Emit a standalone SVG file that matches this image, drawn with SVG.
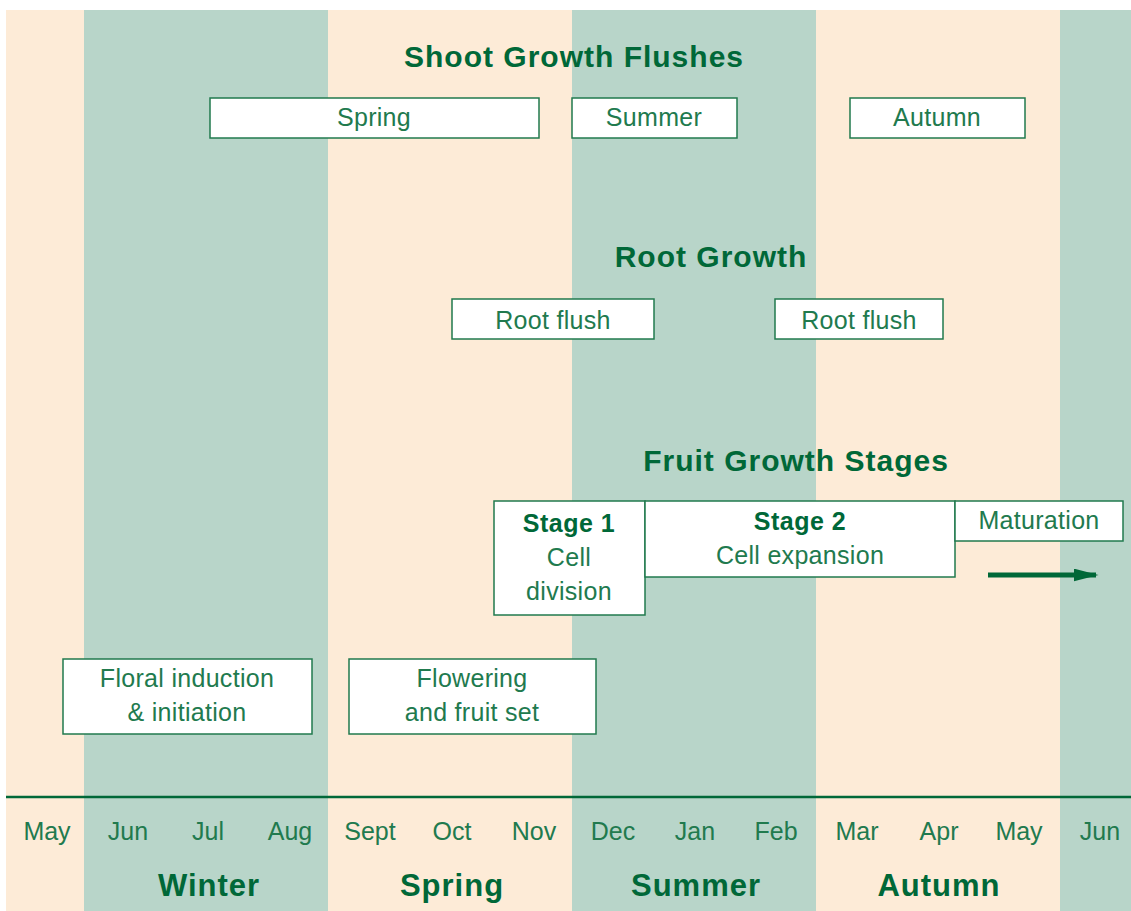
<svg xmlns="http://www.w3.org/2000/svg" width="1131" height="911" viewBox="0 0 1131 911">
<defs>
<style>
.p{fill:#fdebd7}.g{fill:#b8d5c9}
.box{fill:#fff;stroke:#217a4e;stroke-width:1.5}
text{font-family:"Liberation Sans",Arial,sans-serif;text-anchor:middle}
.t{font-size:25px;fill:#217a4e;letter-spacing:0.3px}
.b{font-size:25px;fill:#006838;font-weight:bold;letter-spacing:0.5px}
.h{font-size:30px;fill:#006838;font-weight:bold;letter-spacing:1px}
.m{font-size:25px;fill:#217a4e}
.s{font-size:31px;fill:#006838;font-weight:bold;letter-spacing:1px}
</style>
<marker id="ah" viewBox="0 0 10 10" refX="9" refY="5" markerWidth="5" markerHeight="2.6" markerUnits="strokeWidth" orient="auto" preserveAspectRatio="none"><path d="M0,0L10,5L0,10Z" fill="#006838"/></marker>
</defs>
<rect width="1131" height="911" fill="#fff"/>
<g id="background">
<rect class="p" x="6" y="10" width="78" height="901"/>
<rect class="g" x="84" y="10" width="244" height="901"/>
<rect class="p" x="328" y="10" width="244" height="901"/>
<rect class="g" x="572" y="10" width="244" height="901"/>
<rect class="p" x="816" y="10" width="244" height="901"/>
<rect class="g" x="1060" y="10" width="71" height="901"/>
<line x1="6" y1="797" x2="1131" y2="797" stroke="#006838" stroke-width="2.5"/>
</g>
<g id="titles">
<text class="h" x="574" y="67">Shoot Growth Flushes</text>
<text class="h" x="711" y="267">Root Growth</text>
<text class="h" x="796" y="471">Fruit Growth Stages</text>
</g>
<g id="shoot-spring"><rect class="box" x="210" y="98" width="329" height="40"/><text class="t" x="374" y="126">Spring</text></g>
<g id="shoot-summer"><rect class="box" x="572" y="98" width="165" height="40"/><text class="t" x="654" y="126">Summer</text></g>
<g id="shoot-autumn"><rect class="box" x="850" y="98" width="175" height="40"/><text class="t" x="937" y="126">Autumn</text></g>
<g id="root-1"><rect class="box" x="452" y="299" width="202" height="40"/><text class="t" x="553" y="329">Root flush</text></g>
<g id="root-2"><rect class="box" x="775" y="299" width="168" height="40"/><text class="t" x="859" y="329">Root flush</text></g>
<g id="stage1"><rect class="box" x="494" y="501" width="151" height="114"/><text class="b" x="569" y="532">Stage 1</text><text class="t" x="569" y="566">Cell</text><text class="t" x="569" y="600">division</text></g>
<g id="stage2"><rect class="box" x="645" y="501" width="310" height="76"/><text class="b" x="800" y="530">Stage 2</text><text class="t" x="800" y="564">Cell expansion</text></g>
<g id="maturation"><rect class="box" x="955" y="501" width="168" height="40"/><text class="t" x="1039" y="529">Maturation</text></g>
<g id="floral"><rect class="box" x="63" y="659" width="249" height="75"/><text class="t" x="187" y="687">Floral induction</text><text class="t" x="187" y="721">&amp; initiation</text></g>
<g id="flowering"><rect class="box" x="349" y="659" width="247" height="75"/><text class="t" x="472" y="687">Flowering</text><text class="t" x="472" y="721">and fruit set</text></g>
<g id="connectors">
<line x1="988" y1="575" x2="1096" y2="575" stroke="#006838" stroke-width="5" marker-end="url(#ah)"/>
</g>
<g id="months">
<text class="m" x="47" y="840">May</text><text class="m" x="128" y="840">Jun</text><text class="m" x="208" y="840">Jul</text><text class="m" x="290" y="840">Aug</text>
<text class="m" x="370" y="840">Sept</text><text class="m" x="452" y="840">Oct</text><text class="m" x="534" y="840">Nov</text><text class="m" x="613" y="840">Dec</text>
<text class="m" x="695" y="840">Jan</text><text class="m" x="776" y="840">Feb</text><text class="m" x="857" y="840">Mar</text><text class="m" x="939" y="840">Apr</text>
<text class="m" x="1019" y="840">May</text><text class="m" x="1100" y="840">Jun</text>
</g>
<g id="seasons">
<text class="s" x="209" y="896">Winter</text><text class="s" x="452" y="896">Spring</text><text class="s" x="696" y="896">Summer</text><text class="s" x="939" y="896">Autumn</text>
</g>
</svg>
